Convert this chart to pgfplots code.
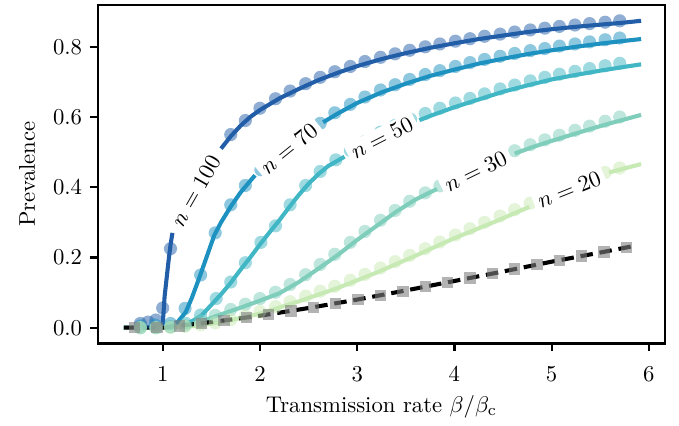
\documentclass[border=0pt]{standalone}
\usepackage{pgfplots}
\pgfplotsset{compat=1.18}
\definecolor{cA}{HTML}{225EA8}
\definecolor{cB}{HTML}{1D91C0}
\definecolor{cC}{HTML}{41B6C4}
\definecolor{cD}{HTML}{7FCDBB}
\definecolor{cE}{HTML}{C7E9B4}
\pgfplotsset{
  dots/.style={only marks, mark=*, mark size=2.9pt, color=#1,
    mark options={draw opacity=0, fill=#1, fill opacity=0.5}},
  curve/.style={no marks, line width=1.8pt, color=#1},
}
\tikzset{lab/.style={fill=white, inner xsep=2pt, inner ysep=1.5pt}}
\begin{document}
\begin{tikzpicture}
\begin{axis}[
  scale only axis, width=249.8pt, height=149pt,
  xmin=0.335, xmax=6.165, ymin=-0.044, ymax=0.919,
  xtick={1,2,3,4,5,6}, ytick={0,0.2,0.4,0.6,0.8},
  yticklabel style={/pgf/number format/.cd, fixed, fixed zerofill, precision=1},
  xticklabel style={yshift=-3.5pt},
  axis line style={line width=1.2pt},
  tick style={line width=1pt, black},
  major tick length=3.5pt, tick align=outside,
  xtick pos=bottom, ytick pos=left,
  xlabel={Transmission rate $\beta/\beta_{\mathrm{c}}$},
  xlabel style={yshift=1pt},
  ylabel={Prevalence}, ylabel shift=1pt,
]
% simulation points (points under the labels are not shown in the source)
\addplot[dots=cA] coordinates {
 (0.77,0.012) (0.85,0.016) (0.93,0.022) (1.00,0.056) (1.08,0.225)
 (1.70,0.55) (1.85,0.59) (2.00,0.625) (2.16,0.652) (2.31,0.674) (2.47,0.695)
 (2.62,0.713) (2.77,0.729) (2.93,0.744) (3.08,0.758) (3.24,0.770) (3.39,0.780) (3.54,0.790)
 (3.70,0.800) (3.85,0.808) (4.01,0.816) (4.16,0.823) (4.31,0.830) (4.47,0.836) (4.62,0.842)
 (4.78,0.848) (4.93,0.853) (5.08,0.858) (5.24,0.862) (5.39,0.866) (5.55,0.870) (5.70,0.874)};
\addplot[dots=cB] coordinates {
 (0.77,0.005) (0.92,0.008) (1.08,0.012) (1.23,0.055) (1.39,0.150) (1.54,0.270) (1.70,0.350)
 (1.85,0.405) (2.01,0.450) (2.16,0.485) (2.31,0.515) (2.47,0.548) (2.62,0.582) (2.77,0.612)
 (2.93,0.636) (3.08,0.657) (3.24,0.677) (3.39,0.692) (3.54,0.707) (3.70,0.721) (3.85,0.732)
 (4.01,0.744) (4.16,0.755) (4.31,0.764) (4.47,0.773) (4.62,0.781) (4.78,0.789) (4.93,0.795)
 (5.08,0.802) (5.24,0.808) (5.39,0.814) (5.55,0.820) (5.70,0.825)};
\addplot[dots=cC] coordinates {
 (0.77,0.0) (0.93,0.0) (1.08,0.003) (1.24,0.012) (1.39,0.036) (1.55,0.083) (1.70,0.130)
 (1.85,0.185) (2.01,0.243) (2.16,0.290) (2.31,0.350) (2.47,0.405) (2.62,0.445) (2.78,0.478)
 (2.93,0.505) (3.08,0.530) (3.24,0.557) (3.39,0.576) (3.55,0.593) (3.70,0.610) (3.85,0.625)
 (4.01,0.640) (4.16,0.653) (4.31,0.666) (4.47,0.680) (4.62,0.691) (4.78,0.703) (4.93,0.713)
 (5.08,0.722) (5.24,0.730) (5.39,0.738) (5.55,0.746) (5.70,0.753)};
\addplot[dots=cD] coordinates {
 (0.77,0.0) (0.93,0.0) (1.08,0.002) (1.23,0.006) (1.39,0.019) (1.54,0.035) (1.70,0.052)
 (1.85,0.067) (2.00,0.083) (2.16,0.101) (2.31,0.123) (2.47,0.151) (2.62,0.180) (2.77,0.209)
 (2.93,0.243) (3.08,0.274) (3.24,0.306) (3.39,0.334) (3.54,0.360) (3.70,0.384) (3.85,0.404)
 (4.01,0.425) (4.16,0.445) (4.31,0.465) (4.47,0.484) (4.62,0.504) (4.78,0.521) (4.93,0.535)
 (5.08,0.548) (5.24,0.562) (5.39,0.574) (5.55,0.588) (5.70,0.600)};
\addplot[dots=cE] coordinates {
 (0.77,0.0) (0.93,0.0) (1.08,0.001) (1.23,0.004) (1.39,0.008) (1.54,0.014) (1.70,0.023)
 (1.85,0.034) (2.00,0.046) (2.16,0.060) (2.31,0.074) (2.47,0.090) (2.62,0.104) (2.77,0.118)
 (2.93,0.135) (3.08,0.152) (3.24,0.170) (3.39,0.188) (3.54,0.206) (3.70,0.225) (3.85,0.244)
 (4.01,0.264) (4.16,0.282) (4.31,0.300) (4.47,0.318) (4.62,0.336) (4.78,0.355) (4.93,0.372)
 (5.08,0.390) (5.24,0.407) (5.39,0.425) (5.55,0.442) (5.70,0.455)};
\addplot[only marks, mark=square*, mark size=2.5pt, color=gray,
  mark options={draw opacity=0, fill=gray, fill opacity=0.6}] coordinates {
 (0.71,0.0) (0.94,0.0) (1.17,0.005) (1.40,0.012) (1.63,0.020) (1.86,0.029) (2.09,0.038)
 (2.32,0.048) (2.55,0.058) (2.78,0.069) (3.01,0.081) (3.24,0.092) (3.47,0.104) (3.70,0.117)
 (3.93,0.129) (4.16,0.142) (4.39,0.154) (4.62,0.167) (4.85,0.180) (5.08,0.192) (5.31,0.204)
 (5.54,0.216) (5.77,0.228)};
% theory curves, broken where the labels sit
\addplot[curve=cA] coordinates {(0.6,0) (1.0,0) (1.005,0.03) (1.02,0.09) (1.04,0.14) (1.06,0.19) (1.08,0.235) (1.10,0.27)};
\addplot[curve=cA] coordinates {(1.60,0.51) (1.7,0.545) (1.8,0.575) (1.9,0.60) (2.0,0.62) (2.2,0.653) (2.4,0.68)
 (2.6,0.705) (2.8,0.726) (3.0,0.745) (3.25,0.765) (3.5,0.782) (3.75,0.797) (4.0,0.81) (4.25,0.822)
 (4.5,0.832) (4.75,0.842) (5.0,0.85) (5.25,0.857) (5.5,0.863) (5.75,0.869) (5.92,0.874)};
\addplot[curve=cB] coordinates {(0.6,0) (1.0,0) (1.07,0) (1.15,0.015) (1.236,0.044) (1.3,0.085) (1.38,0.145)
 (1.45,0.2) (1.53,0.263) (1.6,0.30) (1.7,0.345) (1.8,0.385) (1.9,0.418) (1.95,0.434)};
\addplot[curve=cB] coordinates {(2.65,0.585) (2.8,0.61) (3.0,0.64) (3.25,0.67) (3.5,0.695) (3.75,0.717)
 (4.0,0.735) (4.25,0.752) (4.5,0.766) (4.75,0.779) (5.0,0.79) (5.25,0.80) (5.5,0.809) (5.75,0.817) (5.92,0.822)};
\addplot[curve=cC] coordinates {(0.6,0) (1.0,0) (1.15,0.002) (1.3,0.018) (1.4,0.035) (1.5,0.065) (1.6,0.095)
 (1.7,0.128) (1.8,0.165) (1.9,0.2) (2.0,0.237) (2.1,0.272) (2.2,0.306) (2.3,0.343) (2.4,0.378)
 (2.5,0.41) (2.6,0.437) (2.7,0.46) (2.87,0.487)};
\addplot[curve=cC] coordinates {(3.64,0.591) (3.75,0.603) (4.0,0.628) (4.25,0.65) (4.5,0.672) (4.75,0.69)
 (5.0,0.707) (5.25,0.72) (5.5,0.732) (5.75,0.743) (5.92,0.75)};
\addplot[curve=cD] coordinates {(0.6,0) (1.0,0) (1.2,0.004) (1.4,0.018) (1.6,0.038) (1.8,0.057) (2.0,0.077)
 (2.2,0.098) (2.4,0.13) (2.6,0.168) (2.8,0.207) (3.0,0.25) (3.2,0.29) (3.4,0.33) (3.6,0.365) (3.82,0.395)};
\addplot[curve=cD] coordinates {(4.62,0.496) (4.8,0.514) (5.0,0.532) (5.2,0.549) (5.4,0.566) (5.6,0.582)
 (5.8,0.597) (5.92,0.606)};
\addplot[curve=cE] coordinates {(0.6,0) (1.0,0) (1.3,0.004) (1.6,0.015) (2.0,0.04) (2.4,0.075) (2.8,0.113)
 (3.2,0.157) (3.6,0.205) (4.0,0.255) (4.4,0.300) (4.77,0.344)};
\addplot[curve=cE] coordinates {(5.59,0.442) (5.92,0.466)};
\addplot[no marks, line width=1.8pt, black, dash pattern=on 5.5pt off 3pt] coordinates {
 (0.6,0) (1.0,0) (1.5,0.016) (2.0,0.034) (2.5,0.056) (3.0,0.08) (3.5,0.106) (4.0,0.133)
 (4.5,0.16) (5.0,0.188) (5.5,0.214) (5.87,0.234)};
% label anchors
\coordinate (L100) at (axis cs:1.34,0.39);
\coordinate (L70) at (axis cs:2.30,0.51);
\coordinate (L50) at (axis cs:3.255,0.540);
\coordinate (L30) at (axis cs:4.22,0.445);
\coordinate (L20) at (axis cs:5.18,0.393);
\end{axis}
\node[lab, rotate=60] at (L100) {$n=100$};
\node[lab, rotate=39] at (L70) {$n=70$};
\node[lab, rotate=27] at (L50) {$n=50$};
\node[lab, rotate=26] at (L30) {$n=30$};
\node[lab, rotate=22] at (L20) {$n=20$};
\path (-43.2pt,-35.2pt) rectangle (256pt,151.2pt);
\end{tikzpicture}
\end{document}
